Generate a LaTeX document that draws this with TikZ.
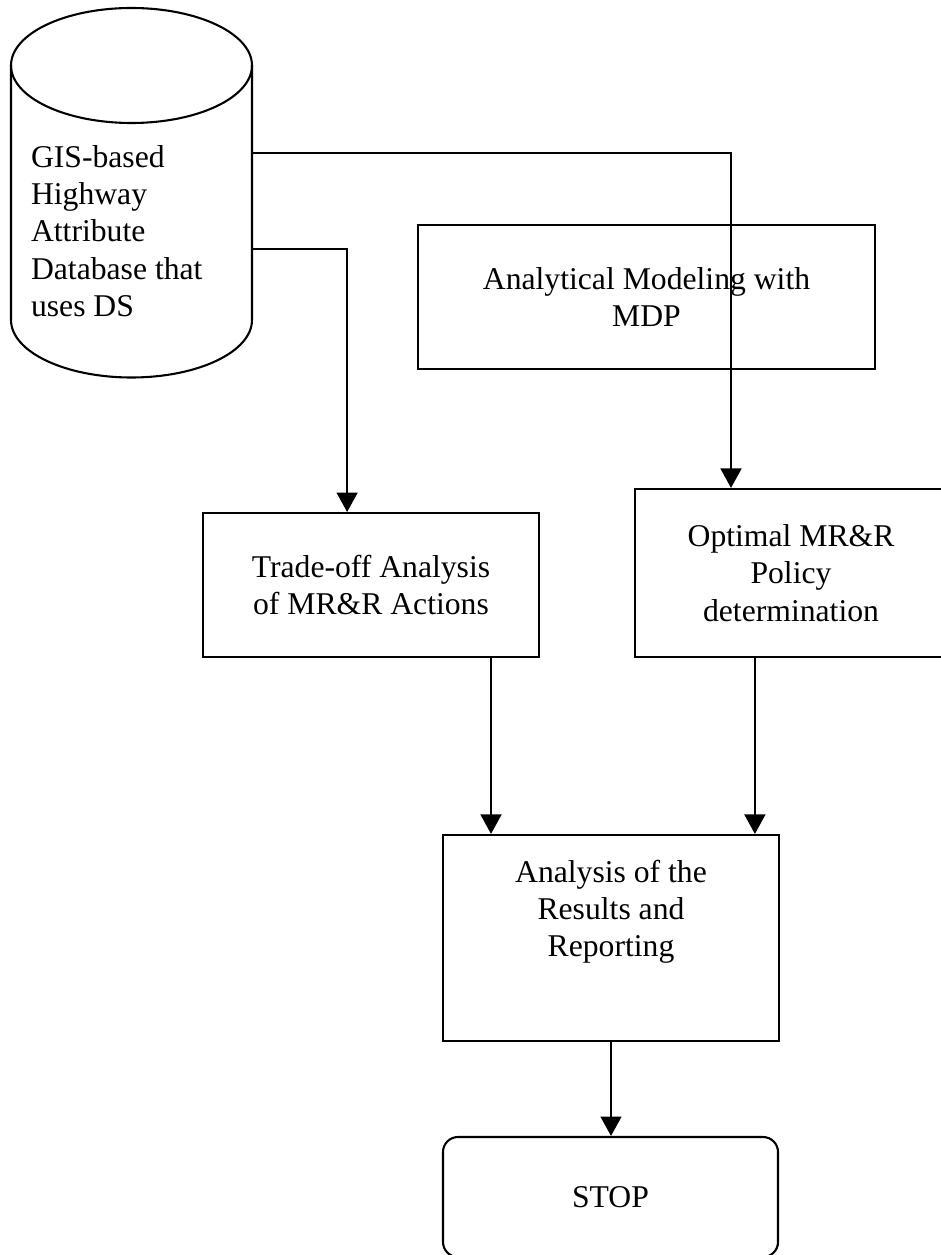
\documentclass[tikz,border=0pt]{standalone}
\usepackage{fontspec}
\setmainfont{Liberation Serif}
\usetikzlibrary{arrows.meta,positioning}

\begin{document}
\begin{tikzpicture}[
  x=0.36pt, y=-0.36pt,
  line width=0.75pt,
  box/.style={draw, rectangle, align=center, font=\fontsize{11.4}{13.4}\selectfont, inner sep=0pt},
  stopbox/.style={box, rounded corners=5.4pt},
  dbtext/.style={align=left, font=\fontsize{11.4}{13.4}\selectfont, inner sep=0pt, anchor=west},
  flow/.style={-{Triangle[length=7pt,width=7.5pt]}}
]
\useasboundingbox (0,0) rectangle (940,1255);

% database cylinder
\draw (131.5,65.5) ellipse [x radius=120.5, y radius=57.5];
\draw (11,65.5) -- (11,320) arc[start angle=180, end angle=0, x radius=120.5, y radius=57.5] -- (252,65.5);
\node[dbtext] (gis) at (30,231) {GIS-based\\Highway\\Attribute\\Database that\\uses DS};
\coordinate (gisA) at (252,153);
\coordinate (gisB) at (252,249);

% process boxes
\node[box, minimum width=164.5pt, minimum height=51.8pt] (mdp) at (646.5,297) {Analytical Modeling with\\MDP};
\node[box, minimum width=121pt, minimum height=51.8pt] (trade) at (371,585) {Trade-off Analysis\\of MR\&R Actions};
\node[box, minimum width=112.3pt, minimum height=60.5pt] (opt) at (791,573) {Optimal MR\&R\\Policy\\determination};
\node[box, minimum width=121pt, minimum height=74.2pt, text depth=21.3pt] (results) at (611,938) {Analysis of the\\Results and\\Reporting};
\node[stopbox, minimum width=120.6pt, minimum height=43.2pt] (stop) at (610.5,1197) {STOP};

% connectors
\draw[flow] (gisA) -| ([xshift=-21.6pt]opt.north);
\draw[flow] (gisB) -| ([xshift=-8.6pt]trade.north);
\draw[flow] ([xshift=43.2pt]trade.south) -- ([xshift=43.2pt]trade.south |- results.north);
\draw[flow] ([xshift=-13pt]opt.south) -- ([xshift=-13pt]opt.south |- results.north);
\draw[flow] (results.south) -- (results.south |- stop.north);

\end{tikzpicture}
\end{document}
